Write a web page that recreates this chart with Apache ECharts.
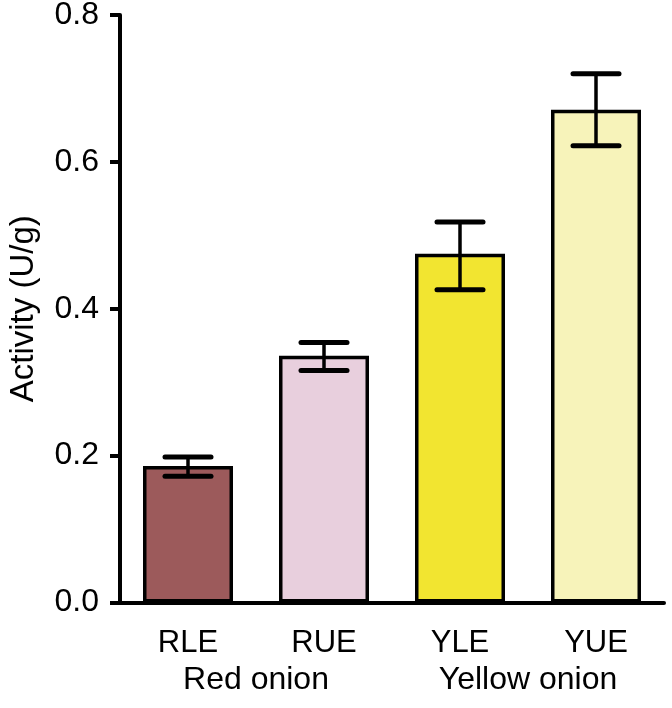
<!DOCTYPE html>
<html><head><meta charset="utf-8">
<script src="https://cdn.jsdelivr.net/npm/echarts@6/dist/echarts.min.js"></script>
<style>html,body{margin:0;padding:0;background:#fff}#c{width:672px;height:708px}</style>
</head><body><div id="c"></div>
<script>
const categories = ['RLE','RUE','YLE','YUE'];
const groups = ['Red onion','Yellow onion'];
const means = [0.186, 0.336, 0.475, 0.671];
const errLow = [0.172, 0.316, 0.426, 0.622];
const errHigh = [0.198, 0.354, 0.518, 0.720];
const colors = ['#9c5a5b','#e8cfdd','#f2e530','#f7f3ba'];
const yTicks = [0, 0.2, 0.4, 0.6, 0.8];

const font = 'Liberation Sans, Arial, sans-serif';
const chart = echarts.init(document.getElementById('c'));
chart.setOption({
  animation:false,
  grid:{left:120, right:8, top:15, bottom:105.5, containLabel:false, outerBoundsMode:'none'},
  xAxis:[{
    type:'category', data:categories,
    axisLine:{lineStyle:{color:'#000', width:4}},
    axisTick:{show:false},
    axisLabel:{color:'#000', fontSize:31, fontFamily:font, margin:25}
  },{
    type:'category', data:groups, position:'bottom', offset:37,
    axisLine:{show:false}, axisTick:{show:false},
    axisLabel:{color:'#000', fontSize:32, fontFamily:font, margin:25}
  }],
  yAxis:{
    type:'value', min:yTicks[0], max:yTicks[yTicks.length-1], interval:0.2,
    name:'Activity (U/g)', nameLocation:'middle', nameGap:80, nameRotate:90,
    nameTextStyle:{color:'#000', fontSize:33, fontFamily:font},
    axisLine:{show:true, lineStyle:{color:'#000', width:4}},
    axisTick:{show:true, length:10, lineStyle:{color:'#000', width:4}},
    axisLabel:{color:'#000', fontSize:32, fontFamily:font, margin:21, formatter:v=>v.toFixed(1)},
    splitLine:{show:false}
  },
  series:[{
    type:'bar', barWidth:90, xAxisIndex:0,
    data:means.map((v,i)=>({value:v, itemStyle:{color:colors[i]}})),
    itemStyle:{borderColor:'#000', borderWidth:3.5},
    z:2
  },{
    type:'custom', xAxisIndex:0, z:3,
    data:categories.map((c,i)=>[i, errLow[i], errHigh[i]]),
    renderItem:function(params, api){
      const x = api.coord([api.value(0), 0])[0];
      const lo = api.coord([api.value(0), api.value(1)])[1];
      const hi = api.coord([api.value(0), api.value(2)])[1];
      const hw = 23;
      const st = {stroke:'#000', lineWidth:5, lineCap:'round'};
      return {type:'group', children:[
        {type:'line', shape:{x1:x,y1:lo,x2:x,y2:hi}, style:{stroke:'#000', lineWidth:3.5}},
        {type:'line', shape:{x1:x-hw,y1:hi,x2:x+hw,y2:hi}, style:st},
        {type:'line', shape:{x1:x-hw,y1:lo,x2:x+hw,y2:lo}, style:st}
      ]};
    }
  }]
});
</script></body></html>
